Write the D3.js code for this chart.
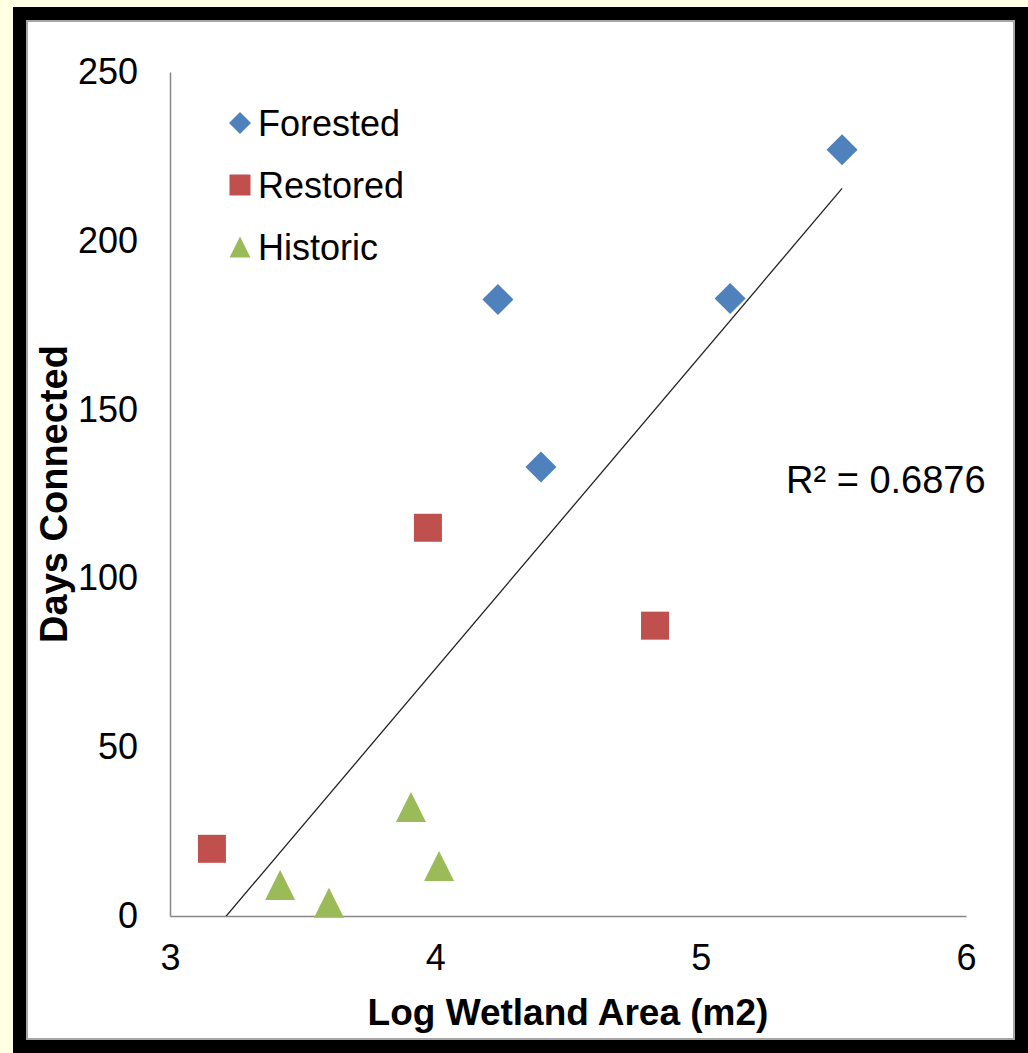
<!DOCTYPE html>
<html>
<head>
<meta charset="utf-8">
<script src="https://cdn.jsdelivr.net/npm/d3@7"></script>
<style>
  body { margin: 0; background: #ffffe3; }
  svg { display: block; font-family: "Liberation Sans", Arial, sans-serif; }
</style>
</head>
<body>
<div id="chart"></div>
<script>
// values
const forested = [
    { x: 4.236, y: 182.6 },
    { x: 4.398, y: 133.0 },
    { x: 5.111, y: 182.9 },
    { x: 5.533, y: 227.0 }
];
const restored = [
    { x: 3.158, y: 19.9 },
    { x: 3.972, y: 115.0 },
    { x: 4.828, y: 86.0 }
];
const historic = [
    { x: 3.415, y: 9.2 },
    { x: 3.599, y: 3.9 },
    { x: 3.908, y: 32.3 },
    { x: 4.014, y: 14.8 }
];
const xTicks = [3, 4, 5, 6];
const yTicks = [0, 50, 100, 150, 200, 250];
const seriesNames = ["Forested", "Restored", "Historic"];
const r2Label = "R\u00B2 = 0.6876";

const colors = { Forested: "#4f81bd", Restored: "#c0504d", Historic: "#9bbb59" };

const width = 1028, height = 1053;

const svg = d3.select("#chart").append("svg")
    .attr("width", width)
    .attr("height", height);

// frame: yellow page, thick black border, thin grey line, white chart
svg.append("rect").attr("width", width).attr("height", height).attr("fill", "#ffffe3");
svg.append("rect").attr("x", 13).attr("y", 7).attr("width", width - 13).attr("height", height - 7).attr("fill", "#000");
svg.append("rect").attr("x", 26).attr("y", 20).attr("width", 989).attr("height", 1020).attr("fill", "#a6a6a6");
svg.append("rect").attr("x", 28).attr("y", 22).attr("width", 985).attr("height", 1016).attr("fill", "#fff");

// scales
const x = d3.scaleLinear().domain([3, 6]).range([170, 966]);
const y = d3.scaleLinear().domain([0, 250]).range([916, 72]);

// axes
const xAxis = svg.append("g")
    .attr("transform", `translate(0,${y(0)})`)
    .call(d3.axisBottom(x).tickValues(xTicks).tickSize(0).tickPadding(28).tickFormat(d3.format("d")));

const yAxis = svg.append("g")
    .attr("transform", `translate(${x(3)},0)`)
    .call(d3.axisLeft(y).tickValues(yTicks).tickSize(0).tickPadding(32).tickFormat(d3.format("d")));

[xAxis, yAxis].forEach(g => {
    g.select(".domain").attr("stroke", "#868686").attr("stroke-width", 1.5);
    g.selectAll("text")
        .attr("fill", "#000")
        .style("font-family", "'Liberation Sans', Arial, sans-serif")
        .style("font-size", "36px");
});

// axis titles
svg.append("text")
    .attr("x", (x(3) + x(6)) / 2)
    .attr("y", 1025)
    .attr("text-anchor", "middle")
    .style("font-size", "37px")
    .style("font-weight", "bold")
    .text("Log Wetland Area (m2)");

svg.append("text")
    .attr("transform", `translate(67,${(y(0) + y(250)) / 2}) rotate(-90)`)
    .attr("text-anchor", "middle")
    .style("font-size", "38px")
    .style("font-weight", "bold")
    .text("Days Connected");

// linear trendline over all points
const allPts = forested.concat(restored, historic);
const mx = d3.mean(allPts, d => d.x);
const my = d3.mean(allPts, d => d.y);
const slope = d3.sum(allPts, d => (d.x - mx) * (d.y - my)) / d3.sum(allPts, d => (d.x - mx) ** 2);
const intercept = my - slope * mx;
const xExt = d3.extent(allPts, d => d.x);

svg.append("clipPath").attr("id", "plot-clip")
    .append("rect")
    .attr("x", x(3)).attr("y", y(250))
    .attr("width", x(6) - x(3)).attr("height", y(0) - y(250));

svg.append("line")
    .attr("clip-path", "url(#plot-clip)")
    .attr("x1", x(xExt[0])).attr("y1", y(slope * xExt[0] + intercept))
    .attr("x2", x(xExt[1])).attr("y2", y(slope * xExt[1] + intercept))
    .attr("stroke", "#222")
    .attr("stroke-width", 1.3);

// marker shapes, size = full width in px
function markerPath(name, s) {
    const h = s / 2;
    if (name === "Forested") return `M0,${-h}L${h},0L0,${h}L${-h},0Z`;
    if (name === "Restored") return `M${-h},${-h}H${h}V${h}H${-h}Z`;
    return `M0,${-h}L${h},${h}L${-h},${h}Z`;
}

const series = [
    { name: "Forested", data: forested, size: 31 },
    { name: "Restored", data: restored, size: 28 },
    { name: "Historic", data: historic, size: 30 }
];

series.forEach(s => {
    svg.append("g").selectAll("path")
        .data(s.data)
        .enter()
        .append("path")
        .attr("transform", d => `translate(${x(d.x)},${y(d.y)})`)
        .attr("d", markerPath(s.name, s.size))
        .attr("fill", colors[s.name]);
});

// legend
const legend = svg.append("g").attr("transform", "translate(240,123)");
seriesNames.forEach((name, i) => {
    const row = legend.append("g").attr("transform", `translate(0,${i * 62})`);
    row.append("path")
        .attr("d", markerPath(name, name === "Forested" ? 22 : 21))
        .attr("fill", colors[name]);
    row.append("text")
        .attr("x", 18)
        .attr("dy", "0.36em")
        .style("font-size", "36px")
        .text(name);
});

// R squared label
svg.append("text")
    .attr("x", 786)
    .attr("y", 493)
    .style("font-size", "38px")
    .text(r2Label);
</script>
</body>
</html>
